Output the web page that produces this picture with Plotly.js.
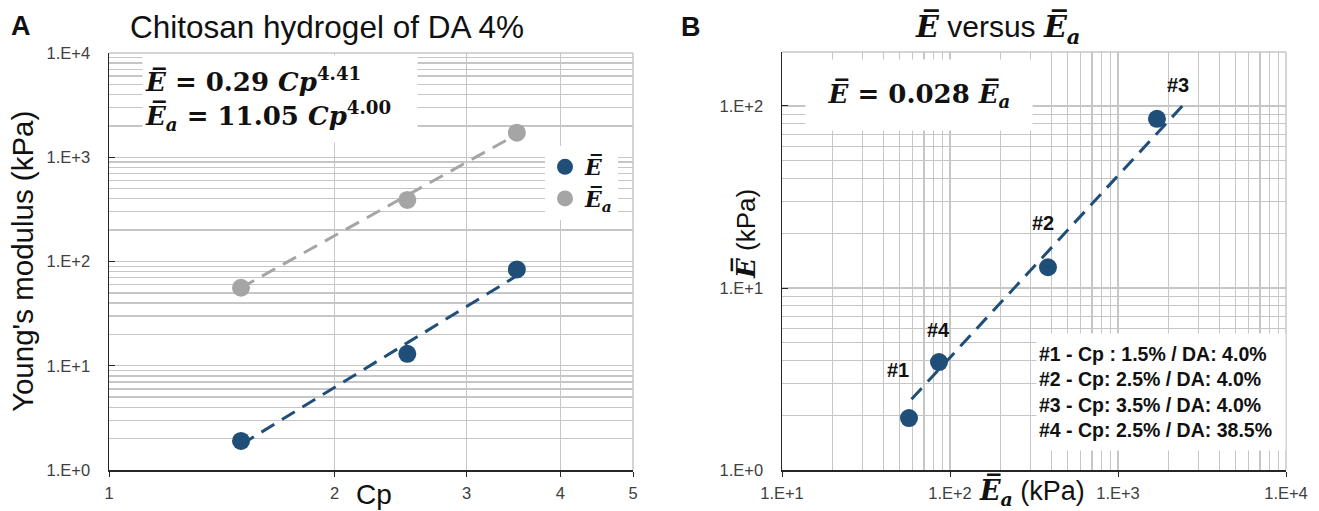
<!DOCTYPE html>
<html>
<head>
<meta charset="utf-8">
<script src="https://cdn.plot.ly/plotly-3.0.1.min.js"></script>
<style>html,body{margin:0;padding:0;background:#fff;}#chart{width:1319px;height:511px;}</style>
</head>
<body>
<div id="chart"></div>
<script>
// ---- data ----
const cp = [1.5, 2.5, 3.5];                 // polymer concentration Cp (%)
const E = [1.9, 13, 84];                     // Ē (kPa), DA 4%
const Ea = [56, 390, 1720];                  // Ē_a (kPa), DA 4%
const cpFit = [1.5, 3.5];                    // trendline ends
const EFit = [1.75, 73];                     // Ē = 0.29 Cp^4.41
const EaFit = [56, 1660];                    // Ē_a = 11.05 Cp^4.00
const sampleLabels = ['#1', '#2', '#3', '#4'];
const sampleEa = [57, 383, 1706, 86];        // panel B x
const sampleE = [1.93, 13, 85, 3.92];        // panel B y
const lineEa = [59, 2440];                   // panel B trendline ends
const lineE = [2.45, 101];
const yTicksA = [1, 10, 100, 1000, 10000];
const yTickTextA = ['1.E+0', '1.E+1', '1.E+2', '1.E+3', '1.E+4'];
const xTicksA = [1, 2, 3, 4, 5];
const xTicksB = [10, 100, 1000, 10000];
const xTickTextB = ['1.E+1', '1.E+2', '1.E+3', '1.E+4'];
const yTicksB = [1, 10, 100];
const yTickTextB = ['1.E+0', '1.E+1', '1.E+2'];
const sampleInfo = [
  '#1 - Cp : 1.5% / DA: 4.0%',
  '#2 - Cp: 2.5% / DA: 4.0%',
  '#3 - Cp: 3.5% / DA: 4.0%',
  '#4 - Cp: 2.5% / DA: 38.5%'
];

// ---- styling ----
const BLUE = '#1F4E79', GRAY = '#A5A5A5';
const GRID = '#c6c6c6', AXIS = '#262626';
const W = 1319, H = 511;
const px = v => v / W, py = v => 1 - v / H;
const SERIF = 'DejaVu Serif, Liberation Serif, serif';
const SANS = 'Liberation Sans, Arial, sans-serif';
const EB = '<span style="font-family:DejaVu Serif"><b><i>E\u0305</i></b></span>';
const EAB = '<span style="font-family:DejaVu Serif"><b><i>E\u0305<sub>a</sub></i></b></span>';

function multiples(lo, hi) {
  const out = [];
  for (let d = lo; d < hi; d *= 10) for (let m = 2; m <= 9; m++) out.push(m * d);
  return out;
}

const traces = [
  {x: cpFit, y: EaFit, mode: 'lines', line: {color: GRAY, width: 3, dash: '15px,9px'}, showlegend: false, hoverinfo: 'skip', xaxis: 'x', yaxis: 'y'},
  {x: cpFit, y: EFit, mode: 'lines', line: {color: BLUE, width: 3, dash: '15px,9px'}, showlegend: false, hoverinfo: 'skip', xaxis: 'x', yaxis: 'y'},
  {x: cp, y: E, mode: 'markers', name: '<b><i>E\u0305</i></b>', marker: {color: BLUE, size: 18}, xaxis: 'x', yaxis: 'y'},
  {x: cp, y: Ea, mode: 'markers', name: '<b><i>E\u0305<sub>a</sub></i></b>', marker: {color: GRAY, size: 18}, xaxis: 'x', yaxis: 'y'},
  {x: lineEa, y: lineE, mode: 'lines', line: {color: BLUE, width: 3, dash: '15px,9px'}, showlegend: false, hoverinfo: 'skip', xaxis: 'x2', yaxis: 'y2'},
  {x: sampleEa, y: sampleE, mode: 'markers', marker: {color: BLUE, size: 18}, showlegend: false, xaxis: 'x2', yaxis: 'y2'}
];

const tickFont = {family: SANS, size: 16.5, color: '#404040'};
const baseAxis = {
  type: 'log', showline: true, linecolor: AXIS, linewidth: 1.5,
  gridcolor: GRID, gridwidth: 1.3, zeroline: false, tickfont: tickFont,
  tickmode: 'array', ticklabelstandoff: 3
};

function pa(o) {
  return Object.assign({xref: 'paper', yref: 'paper', xanchor: 'center', yanchor: 'middle', showarrow: false}, o);
}

const annotations = [
  pa({text: '<b>A</b>', x: px(21), y: py(26), font: {family: SANS, size: 27, color: '#111'}}),
  pa({text: '<b>B</b>', x: px(691), y: py(27), font: {family: SANS, size: 27, color: '#111'}}),
  pa({text: 'Chitosan hydrogel of DA 4%', x: px(327), y: py(27), font: {family: SANS, size: 31.5, color: '#111'}}),
  pa({text: EB + ' versus ' + EAB, x: px(998), y: py(29), font: {family: SANS, size: 30, color: '#111'}}),
  pa({text: "Young's modulus (kPa)", x: px(22), y: py(262), textangle: -90, font: {family: SANS, size: 29.5, color: '#111'}}),
  pa({text: 'Cp', x: px(374), y: py(494), font: {family: SANS, size: 28, color: '#111'}}),
  pa({text: EB + ' (kPa)', x: px(745), y: py(234), textangle: -90, font: {family: SANS, size: 26, color: '#111'}}),
  pa({text: EAB + ' (kPa)', x: px(1032), y: py(491), font: {family: SANS, size: 27, color: '#111'}}),
  pa({text: '<b><i>E\u0305</i> = 0.29 <i>Cp</i><sup>4.41</sup></b><br><b><i>E\u0305<sub>a</sub></i> = 11.05 <i>Cp</i><sup>4.00</sup></b>',
      x: px(280), y: py(99), align: 'left', width: 270, height: 82, borderpad: 2,
      bgcolor: '#fff', font: {family: SERIF, size: 26, color: '#111'}}),
  pa({text: '<b><i>E\u0305</i> = 0.028 <i>E\u0305<sub>a</sub></i></b>',
      x: px(919), y: py(95), align: 'center', width: 222, height: 66, borderpad: 2,
      bgcolor: '#fff', font: {family: SERIF, size: 26, color: '#111'}}),
  pa({text: sampleInfo.map(s => '<b>' + s + '</b>').join('<br>'),
      x: px(1161), y: py(392), align: 'left', width: 244, height: 112, borderpad: 2,
      bgcolor: '#fff', font: {family: SANS, size: 19.5, color: '#111'}})
];
const labelShift = [[-11, 48], [-5, 44], [21, 34], [-1, 32]];
sampleLabels.forEach((t, i) => annotations.push({
  text: '<b>' + t + '</b>', x: Math.log10(sampleEa[i]), y: Math.log10(sampleE[i]), xref: 'x2', yref: 'y2',
  xanchor: 'center', yanchor: 'middle',
  showarrow: false, xshift: labelShift[i][0], yshift: labelShift[i][1], font: {family: SANS, size: 20, color: '#111'}
}));

const layout = {
  width: W, height: H, margin: {l: 0, r: 0, t: 0, b: 0},
  paper_bgcolor: '#fff', plot_bgcolor: '#fff', showlegend: true,
  legend: {x: px(545), y: py(146), xanchor: 'left', yanchor: 'top', bgcolor: '#fff',
           font: {family: SERIF, size: 22, color: '#111'}, itemwidth: 30, tracegroupgap: 0},
  xaxis: Object.assign({}, baseAxis, {domain: [px(109), px(633)], range: [0, Math.log10(5)], anchor: 'y',
          tickvals: xTicksA, ticktext: xTicksA.map(String), ticks: 'outside', ticklen: 5, tickcolor: AXIS}),
  yaxis: Object.assign({}, baseAxis, {domain: [py(470), py(53)], range: [0, 4], anchor: 'x',
          tickvals: yTicksA, ticktext: yTickTextA, ticks: 'inside', ticklen: 6, tickcolor: AXIS, ticklabelstandoff: 14,
          minor: {tickmode: 'array', tickvals: multiples(1, 10000), showgrid: true, gridcolor: GRID, gridwidth: 1.3, ticks: ''}}),
  xaxis2: Object.assign({}, baseAxis, {domain: [px(782), px(1286)], range: [1, 4], anchor: 'y2',
          tickvals: xTicksB, ticktext: xTickTextB, ticks: 'outside', ticklen: 5, tickcolor: AXIS,
          minor: {tickmode: 'array', tickvals: multiples(10, 10000), showgrid: true, gridcolor: GRID, gridwidth: 1.3, ticks: ''}}),
  yaxis2: Object.assign({}, baseAxis, {domain: [py(470), py(52)], range: [0, Math.log10(198)], anchor: 'x2',
          tickvals: yTicksB, ticktext: yTickTextB, ticks: 'inside', ticklen: 6, tickcolor: AXIS, ticklabelstandoff: 14,
          minor: {tickmode: 'array', tickvals: multiples(1, 100).concat([200]), showgrid: true, gridcolor: GRID, gridwidth: 1.3, ticks: ''}}),
  annotations: annotations,
  shapes: [
    {type: 'line', xref: 'paper', yref: 'paper', x0: px(109), x1: px(633), y0: py(53), y1: py(53), line: {color: GRID, width: 1.5}, layer: 'between'},
    {type: 'line', xref: 'paper', yref: 'paper', x0: px(633), x1: px(633), y0: py(470), y1: py(53), line: {color: GRID, width: 1.5}, layer: 'between'},
    {type: 'line', xref: 'paper', yref: 'paper', x0: px(782), x1: px(1286), y0: py(52), y1: py(52), line: {color: GRID, width: 1.5}, layer: 'between'},
    {type: 'line', xref: 'paper', yref: 'paper', x0: px(1286), x1: px(1286), y0: py(470), y1: py(52), line: {color: GRID, width: 1.5}, layer: 'between'}
  ]
};

Plotly.newPlot('chart', traces, layout, {displayModeBar: false, staticPlot: true});
</script>
</body>
</html>
